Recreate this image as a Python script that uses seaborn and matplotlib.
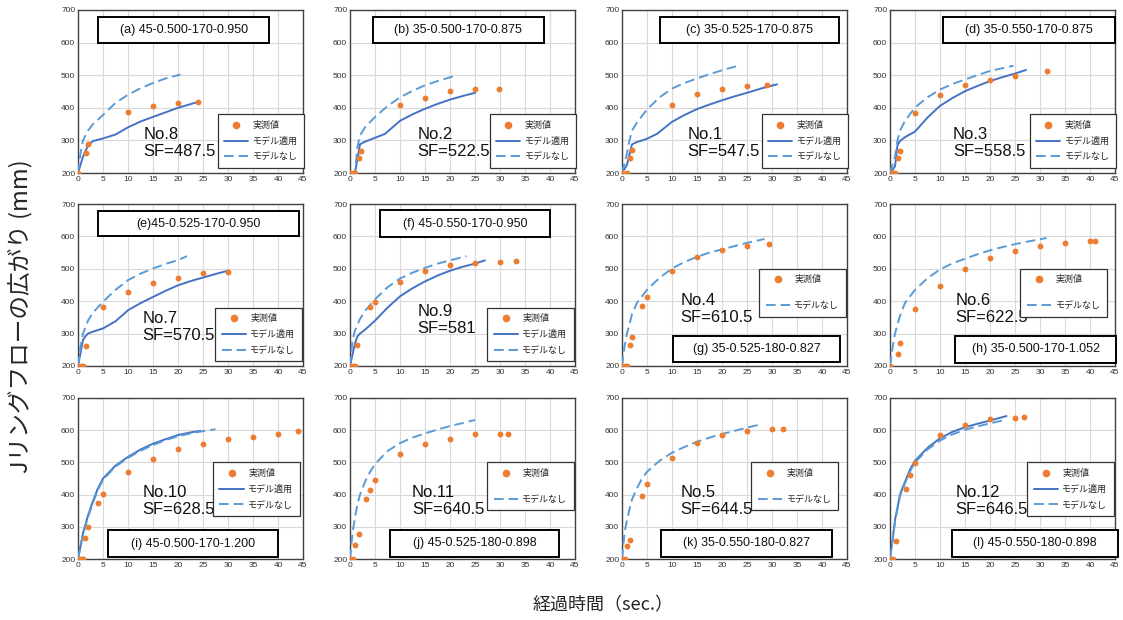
import matplotlib
matplotlib.use("Agg")
import matplotlib.pyplot as plt
import seaborn as sns
from matplotlib.patches import Rectangle
from matplotlib.lines import Line2D

# ---------------- data ----------------
panel_titles = ["(a) 45-0.500-170-0.950", "(b) 35-0.500-170-0.875", "(c) 35-0.525-170-0.875",
                "(d) 35-0.550-170-0.875", "(e)45-0.525-170-0.950", "(f) 45-0.550-170-0.950",
                "(g) 35-0.525-180-0.827", "(h) 35-0.500-170-1.052", "(i) 45-0.500-170-1.200",
                "(j) 45-0.525-180-0.898", "(k) 35-0.550-180-0.827", "(l) 45-0.550-180-0.898"]
panel_notes = ["No.8\nSF=487.5", "No.2\nSF=522.5", "No.1\nSF=547.5", "No.3\nSF=558.5",
               "No.7\nSF=570.5", "No.9\nSF=581", "No.4\nSF=610.5", "No.6\nSF=622.5",
               "No.10\nSF=628.5", "No.11\nSF=640.5", "No.5\nSF=644.5", "No.12\nSF=646.5"]
series_labels = ["実測値", "モデル適用", "モデルなし"]
x_ticks = [0, 5, 10, 15, 20, 25, 30, 35, 40, 45]
y_ticks = [200, 300, 400, 500, 600, 700]

obs_t_a = [0, 1.5, 2, 10, 15, 20, 24]
obs_y_a = [200, 261, 290, 388, 405, 415, 418]
fit_t_a = [0, 1, 2, 3, 5, 7.5, 10, 12.5, 15, 17.5, 20, 22, 24]
fit_y_a = [200, 250, 285, 298, 306, 318, 340, 358, 372, 386, 400, 409, 418]
raw_t_a = [0, 0.5, 1, 2, 3, 5, 7.5, 10, 12.5, 15, 17.5, 20.5]
raw_y_a = [200, 260, 300, 330, 350, 378, 415, 440, 460, 476, 490, 502]

obs_t_b = [0, 0.5, 1, 1.7, 2.1, 10, 15, 20, 25, 29.7]
obs_y_b = [200, 200, 200, 245, 268, 410, 430, 451, 458, 458]
fit_t_b = [0, 1, 2, 3, 5, 7, 10, 12.5, 15, 17.5, 20, 22.5, 25]
fit_y_b = [200, 200, 288, 296, 308, 320, 360, 380, 397, 412, 425, 436, 446]
raw_t_b = [0, 1, 1.5, 2, 3, 5, 7.5, 10, 12.5, 15, 17.5, 21]
raw_y_b = [200, 200, 280, 315, 340, 372, 405, 432, 452, 469, 482, 498]

obs_t_c = [0, 1, 1.5, 2, 10, 15, 20, 25, 29]
obs_y_c = [200, 200, 247, 270, 410, 442, 459, 466, 471]
fit_t_c = [0, 1, 2, 3, 5, 7, 10, 12.5, 15, 17.5, 20, 22.5, 25, 28, 31]
fit_y_c = [200, 225, 288, 295, 305, 320, 357, 378, 396, 410, 423, 435, 446, 460, 472]
raw_t_c = [0, 1, 1.5, 2, 3, 5, 7.5, 10, 12.5, 15, 17.5, 20, 23]
raw_y_c = [200, 260, 300, 330, 355, 395, 432, 459, 476, 490, 503, 515, 528]

obs_t_d = [0, 0.5, 1, 1.5, 2, 5, 10, 15, 20, 25, 31.4]
obs_y_d = [200, 200, 200, 246, 267, 384, 440, 470, 484, 497, 513]
fit_t_d = [0, 1, 1.5, 2, 3, 5, 7.5, 10, 12.5, 15, 17.5, 20, 22.5, 25, 27.2]
fit_y_d = [200, 220, 285, 298, 310, 327, 370, 406, 430, 451, 467, 482, 494, 505, 516]
raw_t_d = [0, 1, 1.5, 2, 3, 5, 7.5, 10, 12.5, 15, 17.5, 20, 24.7]
raw_y_d = [200, 250, 300, 330, 360, 401, 432, 456, 473, 487, 500, 513, 529]

obs_t_e = [0, 0.5, 1, 1.5, 5, 10, 15, 20, 25, 30]
obs_y_e = [200, 200, 200, 261, 383, 429, 457, 472, 486, 489]
fit_t_e = [0, 1, 1.5, 2, 3, 5, 7.5, 10, 12.5, 15, 17.5, 20, 22.5, 25, 27.5, 30]
fit_y_e = [200, 280, 292, 300, 306, 316, 338, 372, 394, 413, 432, 449, 462, 473, 484, 494]
raw_t_e = [0, 0.5, 1, 2, 3, 5, 7.5, 10, 12.5, 15, 17.5, 20, 21.8]
raw_y_e = [200, 260, 300, 340, 365, 398, 435, 465, 485, 501, 515, 527, 539]

obs_t_f = [0, 0.5, 1, 1.4, 3.9, 4.9, 10, 15, 20, 25, 30, 33.2]
obs_y_f = [200, 200, 200, 264, 382, 397, 458, 493, 512, 519, 522, 524]
fit_t_f = [0, 1, 1.5, 2, 3, 5, 7.5, 10, 12.5, 15, 17.5, 20, 22.5, 25, 27]
fit_y_f = [200, 270, 292, 300, 312, 340, 380, 415, 440, 461, 479, 494, 506, 516, 526]
raw_t_f = [0, 0.5, 1, 2, 3, 5, 7.5, 10, 12.5, 15, 17.5, 20, 23.3]
raw_y_f = [200, 280, 310, 345, 370, 406, 443, 470, 488, 503, 516, 526, 539]

obs_t_g = [0, 0.5, 1, 1.5, 2, 4, 5, 10, 15, 20, 25, 29.3]
obs_y_g = [200, 200, 200, 266, 288, 384, 413, 493, 537, 557, 570, 576]
raw_t_g = [0, 0.5, 1, 2, 3, 5, 7.5, 10, 12.5, 15, 17.5, 20, 22.5, 25, 28.5]
raw_y_g = [200, 260, 300, 360, 395, 435, 472, 501, 521, 537, 550, 560, 570, 580, 592]

obs_t_h = [0, 1.5, 2, 5, 10, 15, 20, 25, 30, 35, 40, 41]
obs_y_h = [200, 238, 270, 375, 446, 498, 534, 555, 569, 581, 585, 585]
raw_t_h = [0, 0.5, 1, 2, 3, 5, 7.5, 10, 12.5, 15, 17.5, 20, 22.5, 25, 27.5, 31.3]
raw_y_h = [200, 255, 300, 355, 395, 435, 471, 498, 517, 531, 545, 557, 567, 576, 584, 595]

obs_t_i = [0, 0.5, 1, 1.3, 2, 4, 5, 10, 15, 20, 25, 30, 35, 40, 44]
obs_y_i = [200, 200, 200, 265, 298, 373, 401, 471, 512, 541, 557, 574, 579, 589, 597]
fit_t_i = [0, 0.5, 1, 2, 3, 4, 5, 7.5, 10, 12.5, 15, 17.5, 20, 22.5, 24.5]
fit_y_i = [200, 240, 280, 335, 380, 420, 450, 490, 517, 540, 558, 572, 585, 593, 598]
raw_t_i = [0, 0.5, 1, 2, 3, 4, 5, 7.5, 10, 12.5, 15, 17.5, 20, 22.5, 25, 27.5]
raw_y_i = [200, 238, 276, 330, 375, 415, 446, 487, 514, 536, 554, 569, 581, 590, 597, 603]

obs_t_j = [0, 0.5, 1, 1.7, 3.1, 4, 5, 10, 15, 20, 25, 30, 31.5]
obs_y_j = [200, 200, 243, 277, 385, 414, 445, 525, 557, 572, 587, 588, 588]
raw_t_j = [0, 0.3, 0.6, 1, 1.5, 2, 3, 4, 5, 7.5, 10, 12.5, 15, 17.5, 20, 22.5, 25]
raw_y_j = [200, 250, 290, 330, 370, 400, 440, 470, 495, 535, 560, 577, 590, 602, 613, 622, 632]

obs_t_k = [0, 0.5, 1, 1.6, 3.9, 5, 10, 15, 20, 25, 30, 32.2]
obs_y_k = [200, 200, 239, 260, 396, 433, 515, 560, 586, 597, 604, 604]
raw_t_k = [0, 0.3, 0.6, 1, 1.5, 2, 3, 4, 5, 7.5, 10, 12.5, 15, 17.5, 20, 22.5, 25, 27.5]
raw_y_k = [200, 250, 290, 320, 355, 385, 420, 450, 471, 505, 530, 548, 564, 577, 588, 598, 608, 617]

obs_t_l = [0, 0.5, 1.1, 3.1, 4, 5, 10, 15, 20, 25, 26.7]
obs_y_l = [200, 200, 256, 417, 462, 498, 584, 617, 634, 637, 640]
fit_t_l = [0, 0.5, 1, 2, 3, 4, 5, 7.5, 10, 12.5, 15, 17.5, 20, 23.3]
fit_y_l = [200, 260, 320, 400, 440, 478, 505, 545, 575, 595, 609, 620, 630, 644]
raw_t_l = [0, 0.5, 1, 2, 3, 4, 5, 7.5, 10, 12.5, 15, 17.5, 20, 23]
raw_y_l = [200, 255, 315, 395, 435, 472, 500, 540, 568, 587, 601, 612, 621, 632]

obs_series = [(obs_t_a, obs_y_a), (obs_t_b, obs_y_b), (obs_t_c, obs_y_c), (obs_t_d, obs_y_d),
              (obs_t_e, obs_y_e), (obs_t_f, obs_y_f), (obs_t_g, obs_y_g), (obs_t_h, obs_y_h),
              (obs_t_i, obs_y_i), (obs_t_j, obs_y_j), (obs_t_k, obs_y_k), (obs_t_l, obs_y_l)]
fit_series = [(fit_t_a, fit_y_a), (fit_t_b, fit_y_b), (fit_t_c, fit_y_c), (fit_t_d, fit_y_d),
              (fit_t_e, fit_y_e), (fit_t_f, fit_y_f), None, None,
              (fit_t_i, fit_y_i), None, None, (fit_t_l, fit_y_l)]
raw_series = [(raw_t_a, raw_y_a), (raw_t_b, raw_y_b), (raw_t_c, raw_y_c), (raw_t_d, raw_y_d),
              (raw_t_e, raw_y_e), (raw_t_f, raw_y_f), (raw_t_g, raw_y_g), (raw_t_h, raw_y_h),
              (raw_t_i, raw_y_i), (raw_t_j, raw_y_j), (raw_t_k, raw_y_k), (raw_t_l, raw_y_l)]

# ---------------- layout ----------------
W, H = 1123, 620
col_x = [78, 350, 622, 890]
ax_w = 225
rows_px = [(10, 173), (204, 366), (398, 559)]

title_boxes = [(0.09, 0.80, 0.76, 0.155), (0.10, 0.80, 0.76, 0.155), (0.17, 0.80, 0.795, 0.155),
               (0.235, 0.80, 0.765, 0.155), (0.09, 0.80, 0.89, 0.155), (0.133, 0.795, 0.757, 0.165),
               (0.227, 0.025, 0.742, 0.16), (0.29, 0.02, 0.715, 0.165), (0.133, 0.012, 0.757, 0.168),
               (0.178, 0.012, 0.75, 0.17), (0.173, 0.012, 0.76, 0.17), (0.275, 0.012, 0.74, 0.17)]
note_pos = [(0.29, 0.28), (0.30, 0.28), (0.29, 0.28), (0.28, 0.28), (0.285, 0.34), (0.30, 0.38),
            (0.26, 0.45), (0.29, 0.45), (0.285, 0.46), (0.275, 0.46), (0.26, 0.46), (0.29, 0.46)]
legend_pos = [(0.62, 0.36), (0.62, 0.36), (0.62, 0.36), (0.62, 0.36), (0.61, 0.36), (0.61, 0.36),
              (0.61, 0.60), (0.58, 0.60), (0.60, 0.60), (0.61, 0.60), (0.575, 0.60), (0.61, 0.60)]

ORANGE = "#ED7D31"
BLUE = "#4472C4"
LIGHT = "#5B9BD5"
LATIN = ["Liberation Sans", "Noto Sans CJK JP"]

sns.set_style("whitegrid")
plt.rcParams["font.family"] = ["Noto Sans CJK JP", "DejaVu Sans"]

fig = plt.figure(figsize=(W / 100, H / 100), dpi=100)

for idx in range(12):
    r, c = divmod(idx, 4)
    top, bot = rows_px[r]
    ax = fig.add_axes([col_x[c] / W, 1 - bot / H, ax_w / W, (bot - top) / H])
    ax.set_xlim(0, 45)
    ax.set_ylim(200, 700)
    ax.set_xticks(x_ticks)
    ax.set_yticks(y_ticks)
    ax.grid(True, color="#D9D9D9", linewidth=0.8)
    for s in ax.spines.values():
        s.set_color("#404040")
        s.set_linewidth(1.0)
    ax.tick_params(labelsize=6, colors="#333333", length=0, pad=2)
    for lab in ax.get_xticklabels() + ax.get_yticklabels():
        lab.set_family(LATIN)

    ot, oy = obs_series[idx]
    sns.scatterplot(x=ot, y=oy, ax=ax, color=ORANGE, s=18, linewidth=0, zorder=4)
    handles = [Line2D([], [], linestyle="none", marker="o", markersize=4.5,
                      markerfacecolor=ORANGE, markeredgecolor=ORANGE)]
    labels = [series_labels[0]]
    if fit_series[idx] is not None:
        ft, fy = fit_series[idx]
        sns.lineplot(x=ft, y=fy, ax=ax, color=BLUE, linewidth=1.4, sort=False,
                     estimator=None, zorder=3)
        handles.append(Line2D([], [], color=BLUE, linewidth=1.4))
        labels.append(series_labels[1])
    rt, ry = raw_series[idx]
    sns.lineplot(x=rt, y=ry, ax=ax, color=LIGHT, linewidth=1.4, sort=False,
                 estimator=None, linestyle=(0, (5, 2.5)), zorder=3)
    handles.append(Line2D([], [], color=LIGHT, linewidth=1.4, linestyle=(0, (5, 2.5))))
    labels.append(series_labels[2])

    lx, ly = legend_pos[idx]
    spacing = 0.75 if len(handles) == 3 else 1.9
    leg = ax.legend(handles, labels, loc="upper left", bbox_to_anchor=(lx, ly),
                    frameon=True, fancybox=False, fontsize=6.5, handlelength=2.7,
                    labelspacing=spacing, borderpad=0.7, handletextpad=0.5,
                    borderaxespad=0)
    leg.get_frame().set_edgecolor("#333333")
    leg.get_frame().set_linewidth(0.9)
    leg.get_frame().set_alpha(1)

    bx, by, bw, bh = title_boxes[idx]
    ax.add_patch(Rectangle((bx, by), bw, bh, transform=ax.transAxes, facecolor="white",
                           edgecolor="black", linewidth=1.4, zorder=6, clip_on=False))
    ax.text(bx + bw / 2, by + bh / 2, panel_titles[idx], transform=ax.transAxes,
            ha="center", va="center", fontsize=9, color="#111111", zorder=7,
            family=LATIN)

    nx, ny = note_pos[idx]
    ax.text(nx, ny, panel_notes[idx], transform=ax.transAxes, ha="left", va="top",
            fontsize=12, linespacing=1.15, color="#111111", zorder=5, family=LATIN)

fig.text(0.018, 0.49, "Jリングフローの広がり (mm)", rotation=90, ha="center", va="center",
         fontsize=17)
fig.text(0.537, 0.024, "経過時間（sec.）", ha="center", va="center", fontsize=13)

fig.savefig("out.png", dpi=100)
